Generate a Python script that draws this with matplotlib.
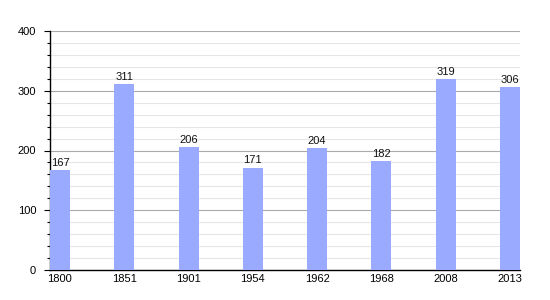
import matplotlib
matplotlib.use("Agg")
import matplotlib.pyplot as plt
from matplotlib.ticker import MultipleLocator

years = ["1800", "1851", "1901", "1954", "1962", "1968", "2008", "2013"]
population = [167, 311, 206, 171, 204, 182, 319, 306]

plt.rcParams['font.family'] = ['Liberation Sans', 'DejaVu Sans']

fig = plt.figure(figsize=(5.5, 3.0), dpi=100)
ax = fig.add_axes([50 / 550, 30 / 300, 470 / 550, 239 / 300])

x = list(range(len(years)))
bar_w = 0.31
ax.bar(x, population, width=bar_w, color='#99aaff', zorder=3)

# value labels above bars
for xi, v in zip(x, population):
    ax.text(xi, v + 4, str(v), ha='center', va='bottom', fontsize=8, color='#111111')

ax.set_xlim(-bar_w / 2, len(years) - 1 + bar_w / 2)
ax.set_ylim(0, 400)
ax.set_xticks(x)
ax.set_xticklabels(years, fontsize=8)
ax.tick_params(axis='x', length=0, pad=3)

ax.yaxis.set_major_locator(MultipleLocator(100))
ax.yaxis.set_minor_locator(MultipleLocator(20))
ax.tick_params(axis='y', which='major', length=4, width=0.8, labelsize=8, pad=6)
ax.tick_params(axis='y', which='minor', length=2, width=0.8)

ax.grid(axis='y', which='major', color='#aaaaaa', linewidth=0.8, zorder=0)
ax.grid(axis='y', which='minor', color='#e6e6e6', linewidth=0.8, zorder=0)

for side in ['top', 'right']:
    ax.spines[side].set_visible(False)
ax.spines['left'].set_linewidth(1.0)
ax.spines['bottom'].set_linewidth(1.0)

fig.savefig("out.png", dpi=100)
